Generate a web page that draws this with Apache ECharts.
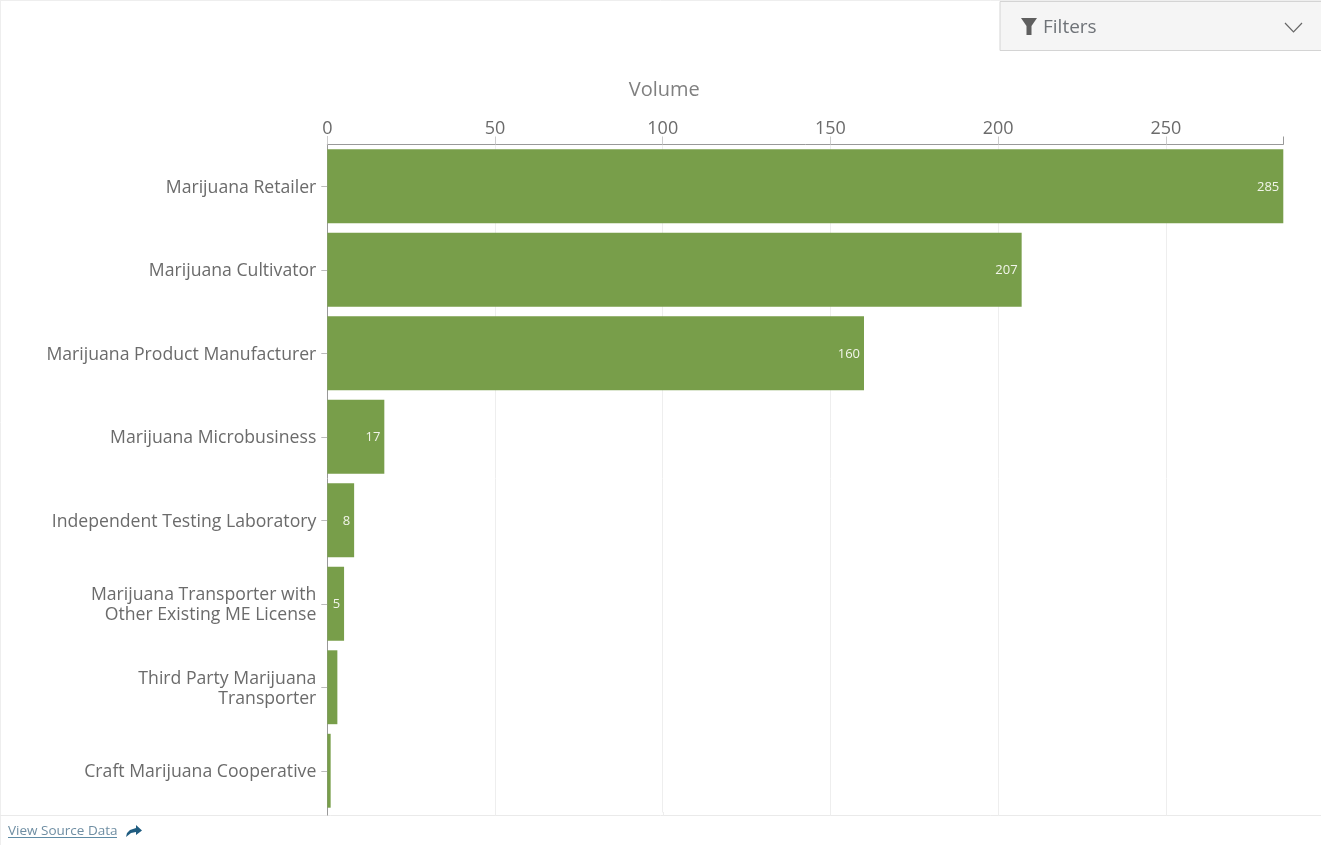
<!DOCTYPE html>
<html>
<head>
<meta charset="utf-8">
<style>
  html, body { margin: 0; padding: 0; background: #fff; }
  #chart { width: 1321px; height: 845px; }
</style>
<script src="https://cdn.jsdelivr.net/npm/echarts@6/dist/echarts.min.js"></script>
</head>
<body>
<div id="chart"></div>
<script>
// Licence volume by category
const categories = [
  'Marijuana Retailer',
  'Marijuana Cultivator',
  'Marijuana Product Manufacturer',
  'Marijuana Microbusiness',
  'Independent Testing Laboratory',
  'Marijuana Transporter with\nOther Existing ME License',
  'Third Party Marijuana\nTransporter',
  'Craft Marijuana Cooperative'
];
const volumes = [285, 207, 160, 17, 8, 5, 3, 1];
const axisTicks = [0, 50, 100, 150, 200, 250];
const axisMax = 285;

const FONT = '"Open Sans", "Noto Sans", sans-serif';
const TEXT = '#6b6b6b';
const chart = echarts.init(document.getElementById('chart'), null, { renderer: 'canvas' });

chart.setOption({
  animation: false,
  backgroundColor: '#ffffff',
  grid: { left: 327.3, right: 37.7, top: 144.5, height: 668, containLabel: false },
  xAxis: {
    type: 'value',
    position: 'top',
    min: 0,
    max: axisMax,
    interval: 50,
    name: 'Volume',
    nameLocation: 'middle',
    nameGap: 44,
    nameTextStyle: { fontFamily: FONT, fontSize: 20, color: '#808080', padding: [0, 282, 0, 0] },
    axisLine: { show: true, onZero: false, lineStyle: { color: '#999999', width: 1 } },
    axisTick: { show: true, length: 8, lineStyle: { color: '#cccccc', width: 1 } },
    axisLabel: {
      fontFamily: FONT, fontSize: 18, color: TEXT, margin: 7,
      showMaxLabel: false,
      formatter: v => axisTicks.includes(v) ? String(v) : ''
    },
    splitLine: { show: true, showMinLine: false, showMaxLine: false, lineStyle: { color: '#eeeeee', width: 1 } }
  },
  yAxis: {
    type: 'category',
    inverse: true,
    data: categories,
    axisLine: { show: true, onZero: false, lineStyle: { color: '#999999', width: 1 } },
    axisTick: { show: true, alignWithLabel: true, length: 6, lineStyle: { color: '#bbbbbb', width: 1 } },
    axisLabel: {
      margin: 11, align: 'right', interval: 0,
      // Single lines get a small top pad; wrapped names keep a wider line pitch.
      formatter: v => {
        const lines = v.split('\n');
        const style = lines.length > 1 ? 'w' : 't';
        return lines.map(line => `{${style}|${line}}`).join('\n');
      },
      rich: {
        t: { fontFamily: FONT, fontSize: 17.65, color: TEXT, lineHeight: 17, padding: [3, 0, 0, 0] },
        w: { fontFamily: FONT, fontSize: 17.65, color: TEXT, lineHeight: 20, padding: [3, 0, 0, 0] }
      }
    }
  },
  series: [{
    type: 'bar',
    data: volumes,
    barCategoryGap: '11.5%',
    z: 3,
    itemStyle: { color: '#789e4a' },
    label: {
      show: true,
      position: 'insideRight',
      distance: 4,
      offset: [0, 1],
      fontFamily: FONT,
      fontSize: 13,
      color: '#f2f5ea',
      formatter: p => p.value >= 5 ? String(p.value) : ''
    }
  }]
});

// Page furniture: frame, filter control, footer link, the darker end ticks
// on the value axis, and the axis lines that run on down to the footer rule.
const axisX = v => chart.convertToPixel({ xAxisIndex: 0 }, v);
const gridBottom = 812;
const footerY = 815.5;
const furniture = [
  { type: 'line', shape: { x1: 0.5, y1: 0, x2: 0.5, y2: 845 }, style: { stroke: '#eeeeee', lineWidth: 1 } },
  { type: 'line', shape: { x1: 0, y1: 0.5, x2: 1321, y2: 0.5 }, style: { stroke: '#eeeeee', lineWidth: 1 } },
  { type: 'line', shape: { x1: 0, y1: footerY, x2: 1321, y2: footerY }, style: { stroke: '#eaeaea', lineWidth: 1 } },
  { type: 'rect', shape: { x: 1000, y: 1.5, width: 322, height: 49 },
    style: { fill: '#f5f5f5', stroke: '#d4d4d4', lineWidth: 1 } },
  { type: 'polygon', shape: { points: [[1021, 18], [1037, 18], [1031.5, 26], [1031.5, 35], [1026.5, 35], [1026.5, 26]] },
    style: { fill: '#5f5f5f' } },
  { type: 'text', x: 1043, y: 28, style: { text: 'Filters', fontFamily: FONT, fontSize: 19, fill: '#6f7378', verticalAlign: 'middle' } },
  { type: 'polyline', shape: { points: [[1285, 23], [1293.5, 32], [1302, 23]] },
    style: { stroke: '#666666', lineWidth: 1.2, fill: 'none' } },
  { type: 'text', x: 8, y: 831, style: { text: 'View Source Data', fontFamily: FONT, fontSize: 13.5, fill: '#6f8ea3', verticalAlign: 'middle' } },
  { type: 'line', shape: { x1: 8, y1: 837.5, x2: 117, y2: 837.5 }, style: { stroke: '#5f8ba5', lineWidth: 1 } },
  { type: 'polygon', shape: { points: [[126, 837], [127, 833], [130, 830], [136, 828], [136, 825], [142, 830.5], [136, 835], [136, 832], [131, 833]] },
    style: { fill: '#1f5c80' } }
];
axisTicks.slice(1).forEach(v => {
  const x = Math.round(axisX(v)) + 0.5;
  furniture.push({ type: 'line', shape: { x1: x, y1: gridBottom, x2: x, y2: footerY }, style: { stroke: '#eeeeee', lineWidth: 1 } });
});
const x0 = Math.floor(axisX(0)) + 0.5;
const xEnd = Math.floor(axisX(axisMax)) + 0.5;
furniture.push({ type: 'line', shape: { x1: x0, y1: gridBottom, x2: x0, y2: footerY }, style: { stroke: '#999999', lineWidth: 1 } });
[x0, xEnd].forEach(x => {
  furniture.push({ type: 'line', shape: { x1: x, y1: 136.5, x2: x, y2: 144.5 }, style: { stroke: '#999999', lineWidth: 1 } });
});
chart.setOption({ graphic: { elements: furniture } });
</script>
</body>
</html>
